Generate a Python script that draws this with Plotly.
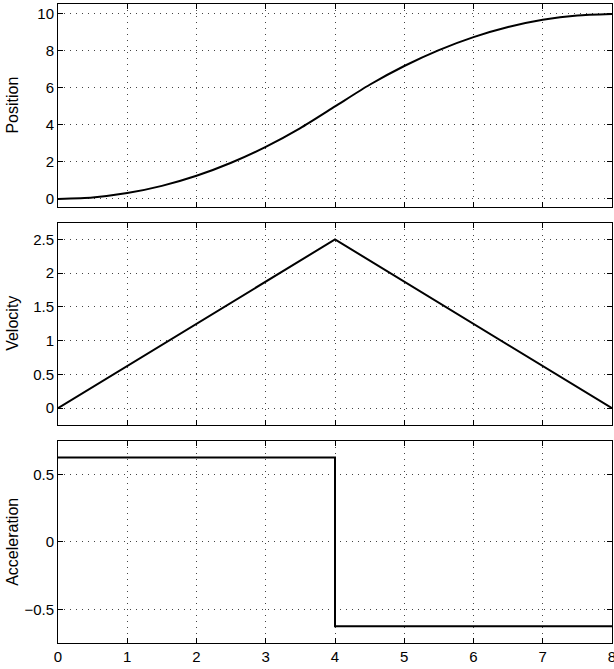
import plotly.graph_objects as go

# Data
t_pos = [0, 0.5, 1, 1.5, 2, 2.5, 3, 3.5, 4, 4.5, 5, 5.5, 6, 6.5, 7, 7.5, 8]
position = [0, 0.078, 0.3125, 0.703, 1.25, 1.953, 2.8125, 3.828, 5.0,
            6.172, 7.1875, 8.047, 8.75, 9.297, 9.6875, 9.922, 10.0]
t_vel = [0, 4, 8]
velocity = [0, 2.5, 0]
t_acc = [0, 4, 4, 8]
acceleration = [0.625, 0.625, -0.625, -0.625]
x_ticks = [0, 1, 2, 3, 4, 5, 6, 7, 8]
titles = ["Position", "Velocity", "Acceleration"]

FONT = "Liberation Sans, Arial, Helvetica, sans-serif"
line_style = dict(color="black", width=2)

fig = go.Figure()
fig.add_trace(go.Scatter(x=t_pos, y=position, mode="lines", line=dict(shape="spline", smoothing=0.6, **line_style),
                         xaxis="x", yaxis="y"))
fig.add_trace(go.Scatter(x=t_vel, y=velocity, mode="lines", line=line_style, xaxis="x2", yaxis="y2"))
fig.add_trace(go.Scatter(x=t_acc, y=acceleration, mode="lines", line=line_style, xaxis="x3", yaxis="y3"))

common = dict(showline=True, linecolor="black", linewidth=1, mirror="ticks",
              ticks="inside", ticklen=5, tickcolor="black", tickwidth=1,
              showgrid=True, gridcolor="#444", gridwidth=1, griddash="1px,5px",
              zeroline=False, tickfont=dict(size=15, color="black", family=FONT),
              ticklabeloverflow="allow", automargin=False)

xcommon = dict(common, range=[0, 8], tickvals=x_ticks)

domains = [[0.682, 1], [0.341, 0.658], [0, 0.3166]]

fig.update_layout(
    width=614, height=669,
    margin=dict(l=58, r=2, t=4, b=26, autoexpand=False),
    paper_bgcolor="white", plot_bgcolor="white",
    showlegend=False,
    font=dict(family=FONT, size=15, color="black"),
    xaxis=dict(xcommon, anchor="y", showticklabels=False, domain=[0, 1]),
    xaxis2=dict(xcommon, anchor="y2", showticklabels=False, domain=[0, 1]),
    xaxis3=dict(xcommon, anchor="y3", domain=[0, 1]),
    yaxis=dict(common, anchor="x", domain=domains[0], range=[-0.45, 10.54], tickvals=[0, 2, 4, 6, 8, 10]),
    yaxis2=dict(common, anchor="x2", domain=domains[1], range=[-0.25, 2.75],
                tickvals=[0, 0.5, 1, 1.5, 2, 2.5], ticktext=["0", "0.5", "1", "1.5", "2", "2.5"]),
    yaxis3=dict(common, anchor="x3", domain=domains[2], range=[-0.75, 0.75],
                tickvals=[-0.5, 0, 0.5], ticktext=["\u22120.5", "0", "0.5"]),
)

for title, dom in zip(titles, domains):
    fig.add_annotation(text=title, textangle=-90, xref="paper", yref="paper",
                       x=(13 - 58) / 554, y=(dom[0] + dom[1]) / 2,
                       xanchor="center", yanchor="middle", showarrow=False,
                       font=dict(size=16, family=FONT, color="black"))

fig.write_html("out.html")
